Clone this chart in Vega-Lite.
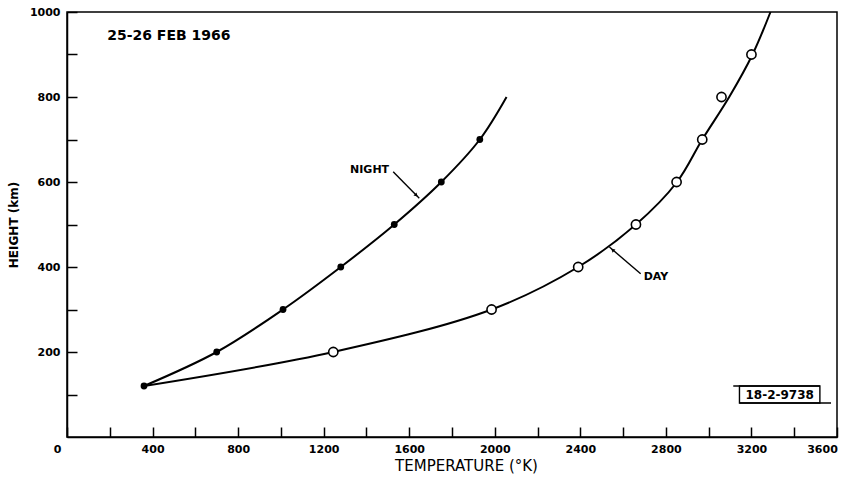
{
  "$schema": "https://vega.github.io/schema/vega-lite/v6.json",
  "autosize": {"type": "none"},
  "width": 770,
  "height": 425,
  "padding": {"left": 67, "top": 12, "right": 4, "bottom": 46},
  "background": "white",
  "config": {
    "view": {"stroke": "black", "strokeWidth": 1.5},
    "axis": {
      "grid": false,
      "domainColor": "black",
      "domainWidth": 1.5,
      "tickColor": "black",
      "tickWidth": 1.5,
      "tickSize": -10,
      "labelFont": "DejaVu Sans",
      "labelFontWeight": "bold",
      "labelFontSize": 11,
      "labelColor": "black",
      "titleFont": "DejaVu Sans",
      "titleColor": "black"
    }
  },
  "datasets": {
    "curves": [
      {"T": 360, "H": 120, "series": "NIGHT"},
      {"T": 700, "H": 200, "series": "NIGHT"},
      {"T": 1010, "H": 300, "series": "NIGHT"},
      {"T": 1280, "H": 400, "series": "NIGHT"},
      {"T": 1530, "H": 500, "series": "NIGHT"},
      {"T": 1750, "H": 600, "series": "NIGHT"},
      {"T": 1930, "H": 700, "series": "NIGHT"},
      {"T": 2055, "H": 800, "series": "NIGHT"},
      {"T": 360, "H": 120, "series": "DAY"},
      {"T": 1245, "H": 200, "series": "DAY"},
      {"T": 1985, "H": 300, "series": "DAY"},
      {"T": 2390, "H": 400, "series": "DAY"},
      {"T": 2660, "H": 500, "series": "DAY"},
      {"T": 2852, "H": 600, "series": "DAY"},
      {"T": 2970, "H": 700, "series": "DAY"},
      {"T": 3096, "H": 800, "series": "DAY"},
      {"T": 3205, "H": 900, "series": "DAY"},
      {"T": 3289, "H": 1000, "series": "DAY"}
    ],
    "obs": [
      {"T": 360, "H": 120, "series": "NIGHT"},
      {"T": 700, "H": 200, "series": "NIGHT"},
      {"T": 1010, "H": 300, "series": "NIGHT"},
      {"T": 1280, "H": 400, "series": "NIGHT"},
      {"T": 1530, "H": 500, "series": "NIGHT"},
      {"T": 1750, "H": 600, "series": "NIGHT"},
      {"T": 1930, "H": 700, "series": "NIGHT"},
      {"T": 1245, "H": 200, "series": "DAY"},
      {"T": 1985, "H": 300, "series": "DAY"},
      {"T": 2390, "H": 400, "series": "DAY"},
      {"T": 2660, "H": 500, "series": "DAY"},
      {"T": 2850, "H": 600, "series": "DAY"},
      {"T": 2970, "H": 700, "series": "DAY"},
      {"T": 3060, "H": 800, "series": "DAY"},
      {"T": 3200, "H": 900, "series": "DAY"}
    ]
  },
  "encoding": {
    "x": {
      "type": "quantitative",
      "scale": {"domain": [0, 3600], "nice": false, "zero": false},
      "axis": {
        "title": "TEMPERATURE (°K)",
        "titleFontSize": 15,
        "titleFontWeight": "normal",
        "titlePadding": 4,
        "titleX": 399,
        "values": [0, 200, 400, 600, 800, 1000, 1200, 1400, 1600, 1800, 2000, 2200, 2400, 2600, 2800, 3000, 3200, 3400, 3600],
        "labelExpr": "datum.value % 400 === 0 ? datum.label : ''",
        "format": "d",
        "labelPadding": 16,
        "labelOffset": {"condition": [{"test": "datum.value === 0", "value": -10}, {"test": "datum.value === 3600", "value": -15}], "value": 0},
        "labelFlush": false
      }
    },
    "y": {
      "type": "quantitative",
      "scale": {"domain": [0, 1000], "nice": false, "zero": false},
      "axis": {
        "title": "HEIGHT (km)",
        "titleFontSize": 12,
        "titleFontWeight": "bold",
        "titlePadding": 9,
        "values": [100, 200, 300, 400, 500, 600, 700, 800, 900, 1000],
        "labelExpr": "datum.value % 200 === 0 ? datum.label : ''",
        "format": "d",
        "labelPadding": 17,
        "labelFlush": false
      }
    }
  },
  "layer": [
    {
      "data": {"name": "curves"},
      "mark": {"type": "line", "color": "black", "strokeWidth": 2, "interpolate": "catmull-rom"},
      "encoding": {
        "x": {"field": "T"},
        "y": {"field": "H"},
        "detail": {"field": "series", "type": "nominal"}
      }
    },
    {
      "data": {"name": "obs"},
      "transform": [{"filter": "datum.series === 'DAY'"}],
      "mark": {"type": "point", "shape": "circle", "filled": true, "fill": "white", "stroke": "black", "strokeWidth": 1.6, "size": 85, "opacity": 1},
      "encoding": {
        "x": {"field": "T"},
        "y": {"field": "H"}
      }
    },
    {
      "data": {"name": "obs"},
      "transform": [{"filter": "datum.series === 'NIGHT'"}],
      "mark": {"type": "point", "shape": "circle", "filled": true, "color": "black", "size": 46, "opacity": 1},
      "encoding": {
        "x": {"field": "T"},
        "y": {"field": "H"}
      }
    },
    {
      "data": {"values": [{}]},
      "mark": {"type": "rule", "color": "black", "strokeWidth": 1.4},
      "encoding": {
        "x": {"datum": 1525, "type": "quantitative"},
        "y": {"datum": 624, "type": "quantitative"},
        "x2": {"datum": 1647},
        "y2": {"datum": 562}
      }
    },
    {
      "data": {"values": [{}]},
      "mark": {"type": "rule", "color": "black", "strokeWidth": 1.4},
      "encoding": {
        "x": {"datum": 2682, "type": "quantitative"},
        "y": {"datum": 384, "type": "quantitative"},
        "x2": {"datum": 2536},
        "y2": {"datum": 447}
      }
    },
    {
      "data": {"values": [{}]},
      "mark": {"type": "point", "shape": "triangle-up", "filled": true, "color": "black", "size": 18, "angle": 135, "opacity": 1},
      "encoding": {
        "x": {"datum": 1633, "type": "quantitative"},
        "y": {"datum": 569, "type": "quantitative"}
      }
    },
    {
      "data": {"values": [{}]},
      "mark": {"type": "point", "shape": "triangle-up", "filled": true, "color": "black", "size": 18, "angle": 311, "opacity": 1},
      "encoding": {
        "x": {"datum": 2551, "type": "quantitative"},
        "y": {"datum": 440, "type": "quantitative"}
      }
    },
    {
      "data": {"values": [{}]},
      "mark": {"type": "text", "text": "NIGHT", "align": "right", "baseline": "middle", "font": "DejaVu Sans", "fontWeight": "bold", "fontSize": 11, "color": "black"},
      "encoding": {
        "x": {"datum": 1506, "type": "quantitative"},
        "y": {"datum": 628, "type": "quantitative"}
      }
    },
    {
      "data": {"values": [{}]},
      "mark": {"type": "text", "text": "DAY", "align": "left", "baseline": "middle", "font": "DejaVu Sans", "fontWeight": "bold", "fontSize": 11, "color": "black"},
      "encoding": {
        "x": {"datum": 2696, "type": "quantitative"},
        "y": {"datum": 376, "type": "quantitative"}
      }
    },
    {
      "data": {"values": [{}]},
      "mark": {"type": "text", "text": "25-26 FEB 1966", "align": "left", "baseline": "middle", "font": "DejaVu Sans", "fontWeight": "bold", "fontSize": 14, "color": "black"},
      "encoding": {
        "x": {"datum": 188, "type": "quantitative"},
        "y": {"datum": 944, "type": "quantitative"}
      }
    },
    {
      "data": {"values": [{}]},
      "mark": {"type": "rect", "fill": "white", "stroke": "black", "strokeWidth": 1.4},
      "encoding": {
        "x": {"datum": 3144, "type": "quantitative"},
        "x2": {"datum": 3520},
        "y": {"datum": 120, "type": "quantitative"},
        "y2": {"datum": 80}
      }
    },
    {
      "data": {"values": [{}]},
      "mark": {"type": "rule", "color": "black", "strokeWidth": 1.4},
      "encoding": {
        "x": {"datum": 3115, "type": "quantitative"},
        "x2": {"datum": 3520},
        "y": {"datum": 120, "type": "quantitative"}
      }
    },
    {
      "data": {"values": [{}]},
      "mark": {"type": "rule", "color": "black", "strokeWidth": 1.4},
      "encoding": {
        "x": {"datum": 3144, "type": "quantitative"},
        "x2": {"datum": 3572},
        "y": {"datum": 80, "type": "quantitative"}
      }
    },
    {
      "data": {"values": [{}]},
      "mark": {"type": "text", "text": "18-2-9738", "align": "center", "baseline": "middle", "font": "DejaVu Sans", "fontWeight": "bold", "fontSize": 12, "color": "black"},
      "encoding": {
        "x": {"datum": 3332, "type": "quantitative"},
        "y": {"datum": 100, "type": "quantitative"}
      }
    }
  ]
}
